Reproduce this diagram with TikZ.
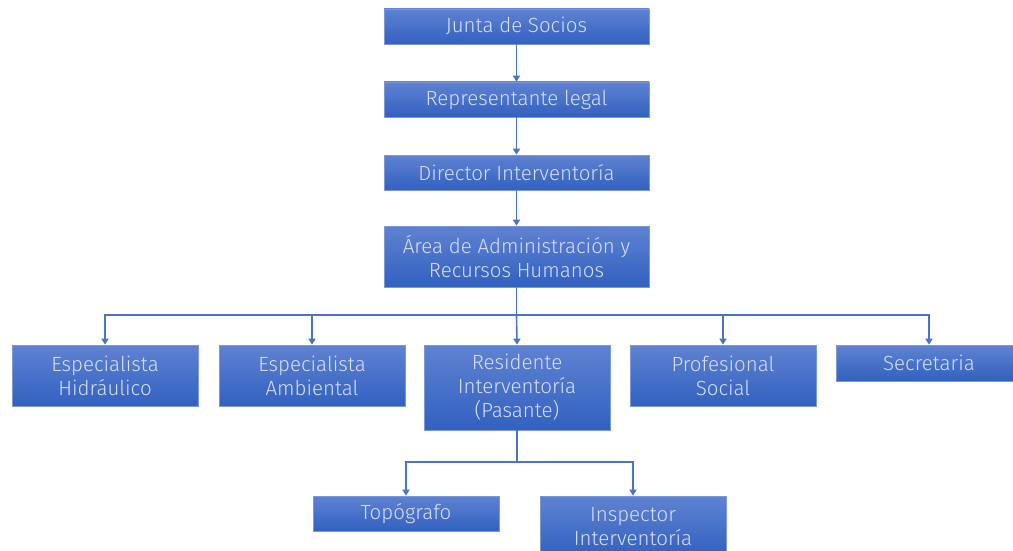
\documentclass[tikz,border=0pt]{standalone}
\usepackage{fontspec}
\setmainfont{Fira Sans}[UprightFont=* Light]
\usetikzlibrary{arrows.meta}
\definecolor{boxtop}{HTML}{5F82D2}
\definecolor{boxbot}{HTML}{3161C0}
\definecolor{boxline}{HTML}{7B98DA}
\definecolor{txt}{HTML}{D8DEF3}
\definecolor{conn}{HTML}{4A74C8}
\tikzset{
  orgbox/.style={rectangle, inner sep=0pt, top color=boxtop, bottom color=boxbot,
    draw=boxline, line width=0.6pt, text=txt, align=center,
    font=\fontsize{20.5}{24}\selectfont, minimum width=186pt},
  conline/.style={draw=conn, line width=1.6pt},
  arr/.style={conline, -{Triangle[width=7pt,length=6pt]}}
}
\begin{document}
\begin{tikzpicture}[x=1pt,y=-1pt]
\useasboundingbox (0,0) rectangle (1013,551);
\clip (0,0) rectangle (1013,551);
\node[orgbox, minimum width=265pt, minimum height=35pt] (junta) at (516.5,26.5) {Junta de Socios};
\node[orgbox, minimum width=265pt, minimum height=35pt] (rep) at (516.5,99.5) {Representante legal};
\node[orgbox, minimum width=265pt, minimum height=35pt] (dir) at (516.5,172.5) {Director Interventoría};
\node[orgbox, minimum width=265pt, minimum height=61pt] (area) at (516.5,256.5) {Área de Administración y\\Recursos Humanos};
\node[orgbox, minimum height=61pt] (hid) at (105,375.5) {Especialista\\Hidráulico};
\node[orgbox, minimum height=61pt] (amb) at (312,375.5) {Especialista\\Ambiental};
\node[orgbox, minimum height=85pt] (res) at (517,387.5) {Residente\\Interventoría\\(Pasante)};
\node[orgbox, minimum height=61pt] (soc) at (723,375.5) {Profesional\\Social};
\node[orgbox, minimum height=36pt] (sec) at (929,363) {Secretaria};
\node[orgbox, minimum height=35pt] (top) at (406,513.5) {Topógrafo};
\node[orgbox, minimum height=61pt] (insp) at (633,526.5) {Inspector\\Interventoría};
\coordinate (bus) at (516.5,315);
\coordinate (bus2) at (517,462);
\draw[arr] (junta) -- (rep);
\draw[arr] (rep) -- (dir);
\draw[arr] (dir) -- (area);
\draw[conline] (area.south) -- (bus);
\draw[arr] (bus) -| (hid.north);
\draw[arr] (bus) -| (amb.north);
\draw[arr] (bus) -- (res.north);
\draw[arr] (bus) -| (soc.north);
\draw[arr] (bus) -| (sec.north);
\draw[conline] (res.south) -- (bus2);
\draw[arr] (bus2) -| (top.north);
\draw[arr] (bus2) -| (insp.north);
\end{tikzpicture}
\end{document}
